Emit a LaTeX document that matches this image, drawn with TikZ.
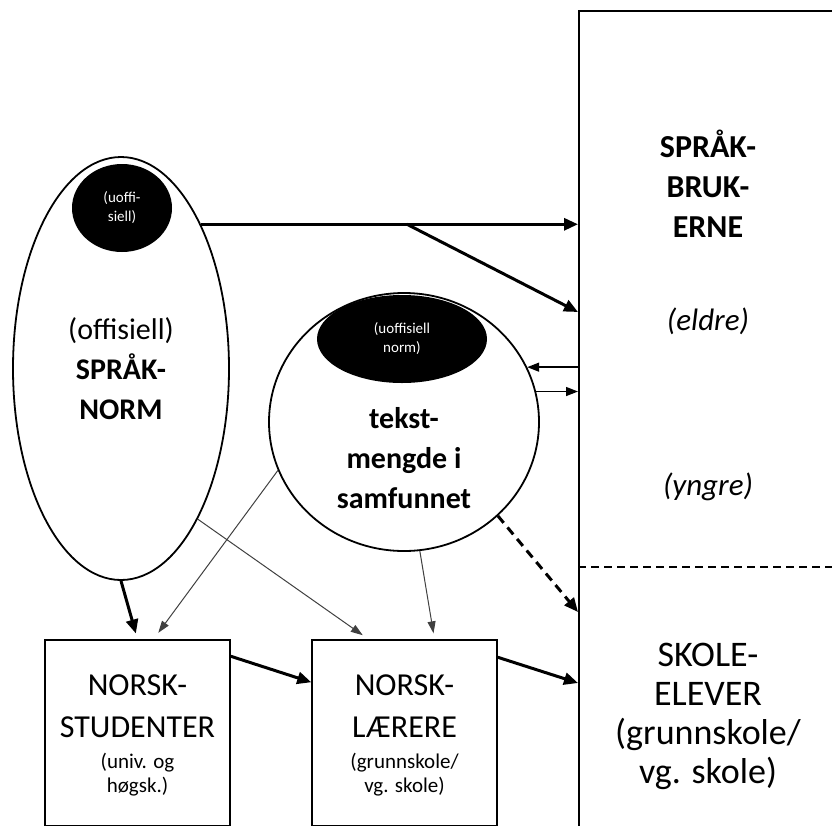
\documentclass[tikz,border=0pt]{standalone}
\usepackage{fontspec}
\setmainfont{Carlito}
\usetikzlibrary{arrows.meta,shapes.geometric}

\tikzset{
  ring/.style={ellipse, draw, line width=1.8pt, inner sep=0pt},
  svart/.style={ellipse, fill=black, text=white, inner sep=0pt, align=center, font=\fontsize{15}{19}\selectfont},
  boks/.style={rectangle, draw, line width=1.5pt, minimum width=185pt, minimum height=186pt, inner sep=0pt},
  stor/.style={align=center, font=\fontsize{32}{42}\selectfont},
  liten/.style={align=center, font=\fontsize{21}{24}\selectfont},
  fet/.style={align=center, font=\bfseries\fontsize{30}{40}\selectfont},
  kursiv/.style={font=\itshape\fontsize{31}{40}\selectfont},
  tykkpil/.style={line width=3pt, -{Triangle[length=14pt,width=12pt]}},
  middelpil/.style={line width=1.4pt, -{Triangle[length=12pt,width=9pt]}},
  tynnpil/.style={line width=1pt, black!75, -{Triangle[length=12pt,width=8pt]}},
}

\begin{document}
\begin{tikzpicture}[x=1pt, y=-1pt]
  \useasboundingbox (0,0) rectangle (832,825);

  % spraakbrukerne
  \node[draw, line width=2pt, rectangle, anchor=north west, minimum width=300pt, minimum height=900pt, inner sep=0pt] (brukere) at (578,10) {};
  \coordinate (skille) at (578,567);
  \draw[line width=1.5pt, dash pattern=on 8pt off 5pt] (skille) -- (brukere.east |- skille);
  \node[fet, font=\bfseries\fontsize{32}{40}\selectfont] (brukertekst) at (708,184) {SPRÅK-\\BRUK-\\ERNE};
  \node[kursiv] (eldre) at (708,321) {(eldre)};
  \node[kursiv] (yngre) at (708,487) {(yngre)};
  \node[stor, font=\fontsize{36}{39}\selectfont] (elever) at (708,716) {SKOLE-\\ELEVER\\(grunnskole/\\vg. skole)};

  % offisiell norm
  \node[ring, minimum width=216pt, minimum height=423pt, align=center, font=\fontsize{30}{40}\selectfont] (norm) at (121,368.5) {(offisiell)\\\textbf{SPRÅK-}\\\textbf{NORM}};
  \node[svart, minimum width=100pt, minimum height=88pt] (uoffi) at (122,208) {(uoffi-\\siell)};

  % tekstmengde
  \node[ring, minimum width=270pt, minimum height=258pt] (tekst) at (404,422) {};
  \node[svart, minimum width=170pt, minimum height=88pt] (uoffnorm) at (402,339) {(uoffisiell\\norm)};
  \node[fet] (tekstnavn) at (404,458) {tekst-\\mengde i\\samfunnet};

  % boksene
  \node[boks] (studenter) at (137.5,733) {};
  \node[stor] (studnavn) at (137.5,706) {NORSK-\\STUDENTER};
  \node[liten] (studniva) at (137.5,775) {(univ. og\\høgsk.)};
  \node[boks] (laerere) at (404.5,733) {};
  \node[stor] (laernavn) at (404.5,706) {NORSK-\\LÆRERE};
  \node[liten] (laerniva) at (404.5,775) {(grunnskole/\\vg. skole)};

  % piler
  \coordinate (gren) at (norm.61 -| 407,0);
  \draw[tykkpil] (norm.61) -- (norm.61 -| brukere.west);
  \draw[tykkpil] (gren) -- (brukere.west |- 0,312);
  \draw[middelpil] (brukere.west |- tekst.24) -- (tekst.24);
  \draw[middelpil] (tekst.13) -- (tekst.13 -| brukere.west);
  \draw[tykkpil, shorten >=6pt] (norm.south) -- (studenter.north);
  \draw[tynnpil, shorten >=8pt] (tekst.201) -- ([xshift=16pt]studenter.north);
  \draw[tynnpil, shorten >=7pt] (norm.-63) -- ([xshift=-36pt]laerere.north);
  \draw[tynnpil, shorten >=6pt] (tekst.-83) -- ([xshift=30pt]laerere.north);
  \draw[tykkpil, dash pattern=on 9pt off 6pt] (tekst.-45) -- (brukere.west |- 0,612);
  \draw[tykkpil] ([yshift=-17pt]studenter.north east) -- ([yshift=-43pt]laerere.north west);
  \draw[tykkpil] ([yshift=-18pt]laerere.north east) -- (brukere.west |- 0,683);
\end{tikzpicture}
\end{document}
